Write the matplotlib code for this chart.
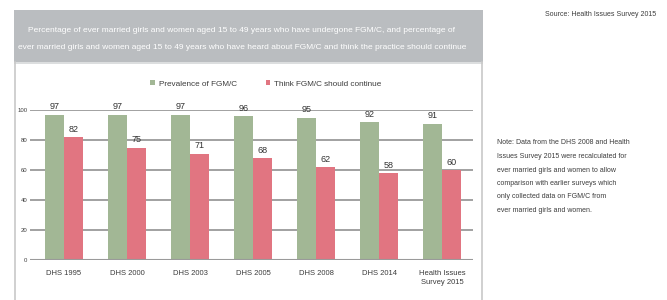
import matplotlib
matplotlib.use("Agg")
import matplotlib.pyplot as plt
from matplotlib.patches import Rectangle
from matplotlib.lines import Line2D
from matplotlib import font_manager
import numpy as np

available = {f.name for f in font_manager.fontManager.ttflist}
FAMILY = "Liberation Sans Narrow" if "Liberation Sans Narrow" in available else "Liberation Sans"
plt.rcParams['font.family'] = [FAMILY, 'DejaVu Sans']

categories = ["DHS 1995", "DHS 2000", "DHS 2003", "DHS 2005", "DHS 2008", "DHS 2014",
              "Health Issues\nSurvey 2015"]
prevalence = [97, 97, 97, 96, 95, 92, 91]
continue_ = [82, 75, 71, 68, 62, 58, 60]
series_names = ["Prevalence of FGM/C", "Think FGM/C should continue"]
yticks = [0, 20, 40, 60, 80, 100]

title_lines = [
    "Percentage of ever married girls and women aged 15 to 49 years who have undergone FGM/C, and percentage of",
    "ever married girls and women aged 15 to 49 years who have heard about FGM/C and think the practice should continue",
]
source = "Source: Health Issues Survey 2015"
note_lines = [
    "Note: Data from the DHS 2008 and Health",
    "Issues Survey 2015 were recalculated for",
    "ever married girls and women to allow",
    "comparison with earlier surveys which",
    "only collected data on FGM/C from",
    "ever married girls and women.",
]

green = "#a2b795"
pink = "#e17581"
grid_c = "#9a9a9a"
text_c = "#3c3c3c"

W, H = 667, 300
fig = plt.figure(figsize=(W / 100, H / 100), dpi=100)
fig.patch.set_facecolor("white")
renderer = fig.canvas.get_renderer()


def size_for(s, target_px):
    t = fig.text(0, 0, s, fontsize=10)
    wpx = t.get_window_extent(renderer=renderer).width
    t.remove()
    return 10 * target_px / wpx


def fx(px):
    return px / W


def fy(py):
    return 1 - py / H


# header band and panel
fig.add_artist(Rectangle((fx(14), fy(62)), fx(483) - fx(14), fy(10) - fy(62),
                         transform=fig.transFigure, facecolor="#babdc0", edgecolor="none", zorder=0))
fig.add_artist(Rectangle((fx(14), fy(64)), fx(483) - fx(14), fy(62) - fy(64),
                         transform=fig.transFigure, facecolor="#dcdedf", edgecolor="none", zorder=0))
fig.add_artist(Line2D([fx(15), fx(15)], [fy(62), 0], transform=fig.transFigure,
                      color="#c8c8c8", lw=1.2))
fig.add_artist(Line2D([fx(482), fx(482)], [fy(62), 0], transform=fig.transFigure,
                      color="#c8c8c8", lw=1.2))

ts = size_for(title_lines[1], 446)
fig.text(fx(242), fy(30), title_lines[0], ha="center", va="center", color="white", fontsize=ts)
fig.text(fx(242), fy(47), title_lines[1], ha="center", va="center", color="white", fontsize=ts)

fig.text(fx(601), fy(14), source, ha="center", va="center", color=text_c,
         fontsize=size_for(source, 110))

ns = size_for(note_lines[0], 132)
for i, line in enumerate(note_lines):
    fig.text(fx(497), fy(143 + 13.5 * i), line, ha="left", va="center", color=text_c, fontsize=ns)

ax = fig.add_axes([fx(30), fy(260), fx(473) - fx(30), fy(110) - fy(260)])
x = np.arange(len(categories))
w = 0.3
b1 = ax.bar(x - w / 2, prevalence, w, color=green, label=series_names[0], zorder=3)
b2 = ax.bar(x + w / 2, continue_, w, color=pink, label=series_names[1], zorder=3)
vs = size_for("97", 10)
for bars, vals in ((b1, prevalence), (b2, continue_)):
    for r, v in zip(bars, vals):
        ax.annotate(f"{v}", (r.get_x() + r.get_width() / 2, v), xytext=(0, 2.5),
                    textcoords="offset points", ha="center", va="bottom",
                    fontsize=vs, color="#333333", annotation_clip=False)

ax.set_xlim(-0.54, 6.49)
ax.set_ylim(0, 100)
ax.set_yticks(yticks)
ax.set_yticklabels([str(t) for t in yticks], fontsize=size_for("100", 10), color=text_c)
ax.set_xticks(x)
ax.set_xticklabels(categories, fontsize=size_for("DHS 1995", 35), color=text_c, linespacing=1.5)
ax.tick_params(axis="both", length=0, pad=7)
ax.tick_params(axis="y", pad=2)
ax.grid(axis="y", color=grid_c, lw=1.3, zorder=0)
for s in ax.spines.values():
    s.set_visible(False)
ax.axhline(0, color=grid_c, lw=1.5, zorder=4)

ls = size_for(series_names[0], 78)
leg = ax.legend(loc="center", bbox_to_anchor=(fx(266), fy(84)), bbox_transform=fig.transFigure,
                ncol=2, frameon=False, fontsize=ls, handlelength=0.6, handleheight=0.6,
                columnspacing=3.5, handletextpad=0.5)
for t in leg.get_texts():
    t.set_color(text_c)

fig.savefig("out.png", dpi=100, facecolor="white")
